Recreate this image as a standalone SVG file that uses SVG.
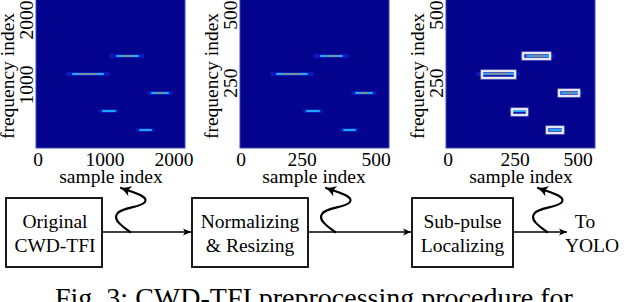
<svg xmlns="http://www.w3.org/2000/svg" width="624" height="302" viewBox="0 0 624 302">
<style>
text{font-family:"Liberation Serif","Times New Roman",serif;fill:#000}
.lbl{font-size:19.5px}
.ctr{text-anchor:middle}
.box{fill:#fff;stroke:#000;stroke-width:1.8}
.conn{stroke:#000;stroke-width:1.6;fill:none}
.sq{stroke:#000;stroke-width:2.2;fill:none;stroke-linecap:round}
.bg{fill:#04048e;stroke:#3a4ab8;stroke-width:1}
.glow{stroke:#1a3cff;stroke-width:4;opacity:0.4;stroke-linecap:round}
.core{stroke:#1fa8ff;stroke-width:2;stroke-linecap:round}
.mid{stroke:#8e8e74;stroke-width:1.4}
.bb{fill:none;stroke:#ffffff;stroke-width:1.6}
.bbo{fill:none;stroke:#aab0d8;stroke-width:3.2;opacity:0.7}
</style>
<defs>
<marker id="ah" markerUnits="userSpaceOnUse" markerWidth="10" markerHeight="8" refX="8" refY="4" orient="auto">
<path d="M0,0.5 L8,4 L0,7.5 L2,4 z" fill="#000"/>
</marker>
<marker id="sh" markerUnits="userSpaceOnUse" markerWidth="14" markerHeight="12" refX="10" refY="6" orient="auto">
<path d="M0,0.5 Q5,4 10,6 Q5,8 0,11.5 Q4,6 0,0.5 z" fill="#000"/>
</marker>
<g id="segs">
<line class="glow" x1="111" y1="56" x2="143" y2="56"/>
<line class="glow" x1="68" y1="74" x2="108" y2="74"/>
<line class="glow" x1="149" y1="93" x2="171" y2="93"/>
<line class="glow" x1="101" y1="111" x2="117" y2="111"/>
<line class="glow" x1="138" y1="130" x2="153" y2="130"/>
<line class="core" x1="117" y1="56" x2="138" y2="56"/>
<line class="core" x1="73" y1="74" x2="103" y2="74"/>
<line class="core" x1="152" y1="93" x2="168" y2="93"/>
<line class="core" x1="103" y1="111" x2="115" y2="111"/>
<line class="core" x1="140" y1="130" x2="151" y2="130"/>
<line class="mid" x1="121" y1="56" x2="134" y2="56"/>
<line class="mid" x1="78" y1="74" x2="98" y2="74"/>
<line class="mid" x1="156" y1="93" x2="164" y2="93"/>
</g>
</defs>

<g id="plot1">
<rect class="bg" x="36" y="-1" width="149" height="149"/>
<use href="#segs"/>
<text class="lbl" transform="translate(13.5,76) rotate(-90)" text-anchor="middle">frequency index</text>
<text class="lbl" transform="translate(33,20) rotate(-90)" text-anchor="middle">2000</text>
<text class="lbl" transform="translate(33,85) rotate(-90)" text-anchor="middle">1000</text>
<text class="lbl ctr" x="38" y="166">0</text>
<text class="lbl ctr" x="105" y="166">1000</text>
<text class="lbl ctr" x="174" y="166">2000</text>
<text class="lbl ctr" x="111" y="183">sample index</text>
</g>

<g id="plot2">
<rect class="bg" x="240" y="-1" width="149" height="149"/>
<use href="#segs" transform="translate(204,0)"/>
<text class="lbl" transform="translate(217.5,76) rotate(-90)" text-anchor="middle">frequency index</text>
<text class="lbl" transform="translate(237,15) rotate(-90)" text-anchor="middle">500</text>
<text class="lbl" transform="translate(237,83) rotate(-90)" text-anchor="middle">250</text>
<text class="lbl ctr" x="241" y="166">0</text>
<text class="lbl ctr" x="302" y="166">250</text>
<text class="lbl ctr" x="376" y="166">500</text>
<text class="lbl ctr" x="314" y="183">sample index</text>
</g>

<g id="plot3">
<rect class="bg" x="446" y="-1" width="149" height="149"/>
<use href="#segs" transform="translate(410,0)"/>
<rect class="bbo" x="523" y="53" width="27" height="6"/>
<rect class="bbo" x="482" y="71" width="33" height="7"/>
<rect class="bbo" x="559" y="90" width="20" height="6"/>
<rect class="bbo" x="512" y="109" width="15" height="6"/>
<rect class="bbo" x="547" y="127" width="16" height="6"/>
<rect class="bb" x="523" y="53" width="27" height="6"/>
<rect class="bb" x="482" y="71" width="33" height="7"/>
<rect class="bb" x="559" y="90" width="20" height="6"/>
<rect class="bb" x="512" y="109" width="15" height="6"/>
<rect class="bb" x="547" y="127" width="16" height="6"/>
<text class="lbl" transform="translate(423.5,76) rotate(-90)" text-anchor="middle">frequency index</text>
<text class="lbl" transform="translate(443,15) rotate(-90)" text-anchor="middle">500</text>
<text class="lbl" transform="translate(443,83) rotate(-90)" text-anchor="middle">250</text>
<text class="lbl ctr" x="448" y="166">0</text>
<text class="lbl ctr" x="515" y="166">250</text>
<text class="lbl ctr" x="578" y="166">500</text>
<text class="lbl ctr" x="521" y="183">sample index</text>
</g>

<g id="connectors">
<line class="conn" x1="102" y1="232" x2="191" y2="232" marker-end="url(#ah)"/>
<line class="conn" x1="308" y1="232" x2="411" y2="232" marker-end="url(#ah)"/>
<line class="conn" x1="513" y1="232" x2="567" y2="232" marker-end="url(#ah)"/>
<path class="sq" d="M130,232 C122,226 113,220 117,214 C121,207 141,208 145,202 C149,196 132,192 121,188" marker-end="url(#sh)"/>
<path class="sq" transform="translate(205,0)" d="M130,232 C122,226 113,220 117,214 C121,207 141,208 145,202 C149,196 132,192 121,188" marker-end="url(#sh)"/>
<path class="sq" transform="translate(417,0)" d="M130,232 C122,226 113,220 117,214 C121,207 141,208 145,202 C149,196 132,192 121,188" marker-end="url(#sh)"/>
</g>

<g id="node-original">
<rect class="box" x="6" y="198" width="96" height="69"/>
<text class="lbl ctr" x="55" y="228">Original</text>
<text class="lbl ctr" x="55" y="252">CWD-TFI</text>
</g>
<g id="node-normalizing">
<rect class="box" x="192" y="198" width="116" height="69"/>
<text class="lbl ctr" x="250" y="228">Normalizing</text>
<text class="lbl ctr" x="250" y="252">&amp; Resizing</text>
</g>
<g id="node-localizing">
<rect class="box" x="412" y="198" width="101" height="69"/>
<text class="lbl ctr" x="462.5" y="228">Sub-pulse</text>
<text class="lbl ctr" x="462.5" y="252">Localizing</text>
</g>
<g id="node-yolo">
<text class="lbl ctr" x="585" y="228">To</text>
<text class="lbl ctr" x="592" y="252">YOLO</text>
</g>

<text x="55" y="307" style="font-size:28px">Fig. 3: CWD-TFI preprocessing procedure for</text>
</svg>
